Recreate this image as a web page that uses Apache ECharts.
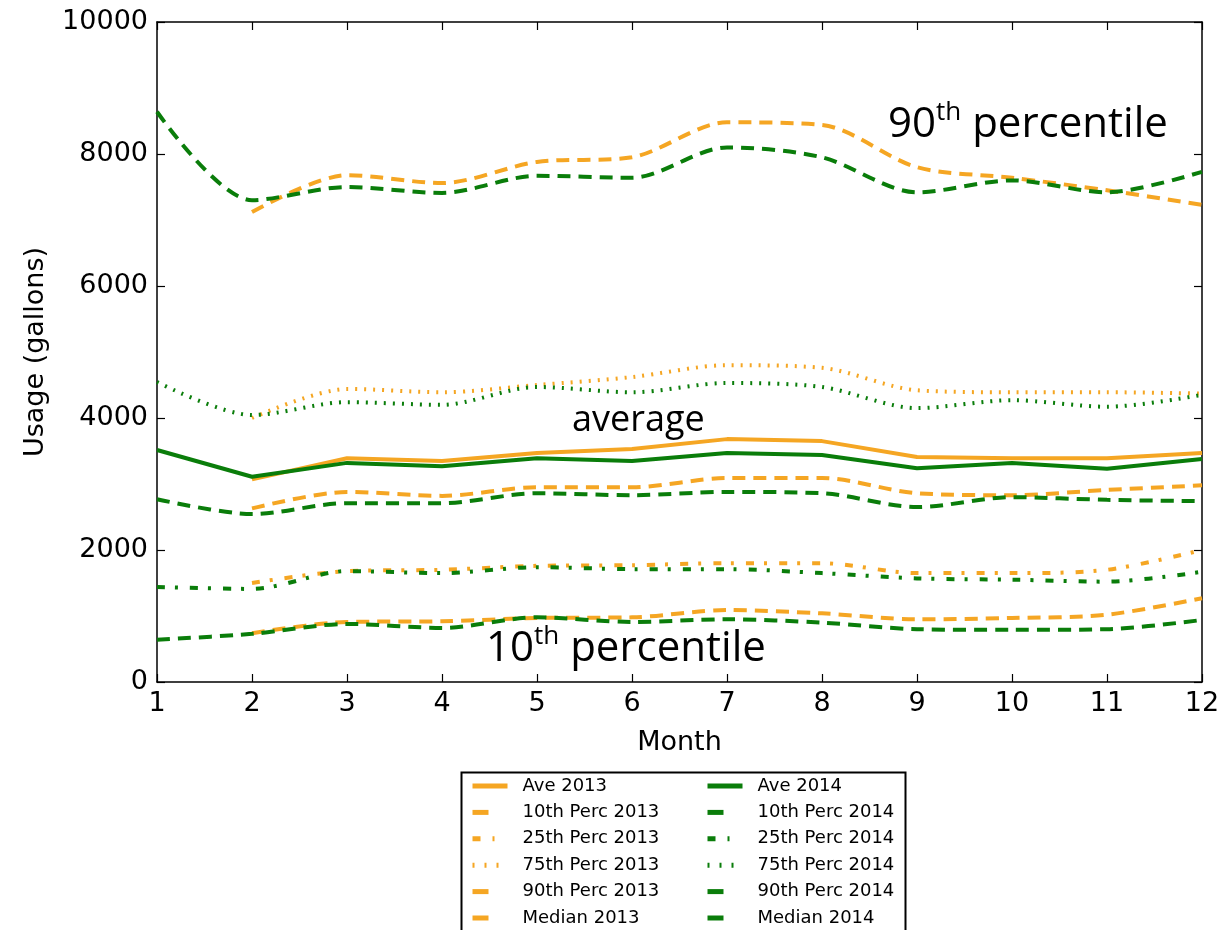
<!DOCTYPE html>
<html>
<head>
<meta charset="utf-8">
<script src="https://cdn.jsdelivr.net/npm/echarts@6/dist/echarts.min.js"></script>
<style>
  html, body { margin: 0; padding: 0; background: #fff; }
  #chart { width: 1224px; height: 930px; }
</style>
</head>
<body>
<div id="chart"></div>
<script>
// months on the x axis; 2013 data starts in February
const months = [1, 2, 3, 4, 5, 6, 7, 8, 9, 10, 11, 12];
const yTicks = [0, 2000, 4000, 6000, 8000, 10000];

const ave2013 = [null, 3070, 3390, 3350, 3470, 3530, 3680, 3650, 3410, 3390, 3390, 3470];
const ave2014 = [3515, 3110, 3320, 3270, 3390, 3350, 3470, 3440, 3240, 3320, 3230, 3380];
const p10_2013 = [null, 740, 910, 920, 970, 980, 1090, 1040, 950, 970, 1020, 1270];
const p10_2014 = [640, 730, 880, 820, 980, 910, 950, 900, 800, 790, 800, 940];
const p25_2013 = [null, 1500, 1680, 1700, 1760, 1770, 1800, 1800, 1650, 1650, 1700, 2000];
const p25_2014 = [1440, 1410, 1680, 1650, 1740, 1710, 1710, 1650, 1570, 1550, 1520, 1670];
const p75_2013 = [null, 4000, 4440, 4390, 4500, 4620, 4800, 4760, 4420, 4390, 4390, 4370];
const p75_2014 = [4545, 4045, 4240, 4200, 4470, 4390, 4530, 4470, 4150, 4270, 4170, 4350];
const p90_2013 = [null, 7120, 7680, 7560, 7880, 7950, 8480, 8440, 7800, 7640, 7450, 7230];
const p90_2014 = [8640, 7300, 7500, 7410, 7670, 7640, 8100, 7950, 7420, 7600, 7420, 7730];
const med2013 = [null, 2630, 2880, 2820, 2950, 2950, 3090, 3090, 2860, 2830, 2910, 2980];
const med2014 = [2770, 2545, 2710, 2710, 2860, 2830, 2880, 2860, 2650, 2800, 2760, 2740];

const ORANGE = '#F5A623';
const GREEN = '#0A7D0A';

const DASH = [13, 8];
const DASHDOT = [8, 10, 3, 12];
const DOT = [2, 7];

// legend handles show only a piece of each pattern, like the original
const LEG_SOLID = 'solid';
const LEG_DASH = [16, 40];
const LEG_DASHDOT = [8, 12, 2, 40];
const LEG_DOT = [2, 10];

const names2013 = ['Ave 2013', '10th Perc 2013', '25th Perc 2013', '75th Perc 2013', '90th Perc 2013', 'Median 2013'];
const names2014 = ['Ave 2014', '10th Perc 2014', '25th Perc 2014', '75th Perc 2014', '90th Perc 2014', 'Median 2014'];
const legendTypes = [LEG_SOLID, LEG_DASH, LEG_DASHDOT, LEG_DOT, LEG_DASH, LEG_DASH];

function toPairs(vals) {
  return months.map((m, i) => [m, vals[i]]);
}

function line(name, vals, color, type, smooth) {
  return {
    name: name,
    type: 'line',
    data: toPairs(vals),
    showSymbol: false,
    symbol: 'none',
    smooth: smooth,
    connectNulls: false,
    lineStyle: { color: color, width: 4, type: type },
    itemStyle: { color: color },
    emphasis: { disabled: true }
  };
}

const series = [
  line('Ave 2013', ave2013, ORANGE, 'solid', 0),
  line('10th Perc 2013', p10_2013, ORANGE, DASH, 0.3),
  line('25th Perc 2013', p25_2013, ORANGE, DASHDOT, 0.3),
  line('75th Perc 2013', p75_2013, ORANGE, DOT, 0.3),
  line('90th Perc 2013', p90_2013, ORANGE, DASH, 0.3),
  line('Median 2013', med2013, ORANGE, DASH, 0.3),
  line('Ave 2014', ave2014, GREEN, 'solid', 0),
  line('10th Perc 2014', p10_2014, GREEN, DASH, 0.3),
  line('25th Perc 2014', p25_2014, GREEN, DASHDOT, 0.3),
  line('75th Perc 2014', p75_2014, GREEN, DOT, 0.3),
  line('90th Perc 2014', p90_2014, GREEN, DASH, 0.3),
  line('Median 2014', med2014, GREEN, DASH, 0.3)
];

const axisFont = { fontFamily: 'DejaVu Sans', fontSize: 27, color: '#000' };
const frameLine = { show: true, onZero: false, lineStyle: { color: '#000', width: 1.5 } };
const tickIn = { show: true, inside: true, length: 8, lineStyle: { color: '#000', width: 1.2 } };

function legendCol(names, color, left) {
  return {
    data: names.map((n, i) => ({
      name: n,
      lineStyle: { type: legendTypes[i], width: 5, color: color, cap: 'butt' }
    })),
    orient: 'vertical',
    left: left,
    top: 777,
    itemWidth: 35,
    itemHeight: 14,
    itemGap: 8.4,
    padding: 0,
    selectedMode: false,
    itemStyle: { opacity: 0 },
    textStyle: { fontFamily: 'DejaVu Sans', fontSize: 18, color: '#000', padding: [0, 0, 0, 10] }
  };
}

const annoFont = 'Open Sans';
function anno(x, y, size, main, sup, rest) {
  return {
    type: 'text',
    left: x,
    top: y,
    silent: true,
    style: {
      text: sup ? '{a|' + main + '}{s|' + sup + '}{a|' + rest + '}' : '{a|' + main + '}',
      rich: {
        a: { fontFamily: annoFont, fontSize: size, lineHeight: 50, color: '#000', verticalAlign: 'middle' },
        s: { fontFamily: annoFont, fontSize: 26, lineHeight: 26, color: '#000', verticalAlign: 'top' }
      }
    }
  };
}

const chart = echarts.init(document.getElementById('chart'));
chart.setOption({
  backgroundColor: '#fff',
  animation: false,
  grid: { left: 157, right: 22, top: 22, bottom: 248, containLabel: false },
  xAxis: [{
    type: 'value',
    min: 1, max: 12, interval: 1,
    name: 'Month',
    nameLocation: 'middle',
    nameGap: 47,
    nameTextStyle: { fontFamily: 'DejaVu Sans', fontSize: 27, color: '#000' },
    axisLine: frameLine,
    axisTick: tickIn,
    axisLabel: Object.assign({ margin: 8 }, axisFont),
    splitLine: { show: false }
  }, {
    type: 'value',
    position: 'top',
    min: 1, max: 12, interval: 1,
    axisLine: frameLine,
    axisTick: tickIn,
    axisLabel: { show: false },
    splitLine: { show: false }
  }],
  yAxis: [{
    type: 'value',
    min: yTicks[0], max: yTicks[yTicks.length - 1], interval: 2000,
    name: 'Usage (gallons)',
    nameLocation: 'middle',
    nameGap: 108,
    nameTextStyle: { fontFamily: 'DejaVu Sans', fontSize: 27, color: '#000' },
    axisLine: frameLine,
    axisTick: tickIn,
    axisLabel: Object.assign({ margin: 9, formatter: v => String(v) }, axisFont),
    splitLine: { show: false }
  }, {
    type: 'value',
    position: 'right',
    min: yTicks[0], max: yTicks[yTicks.length - 1], interval: 2000,
    axisLine: frameLine,
    axisTick: tickIn,
    axisLabel: { show: false },
    splitLine: { show: false }
  }],
  legend: [legendCol(names2013, ORANGE, 470), legendCol(names2014, GREEN, 705)],
  graphic: [
    {
      type: 'rect',
      left: 459, top: 770, silent: true,
      shape: { width: 444, height: 175 },
      style: { fill: 'none', stroke: '#000', lineWidth: 2 }
    },
    anno(888, 100, 42, '90', 'th', ' percentile'),
    anno(572, 403, 36, 'average'),
    anno(486, 624, 42, '10', 'th', ' percentile')
  ],
  series: series
});
</script>
</body>
</html>
